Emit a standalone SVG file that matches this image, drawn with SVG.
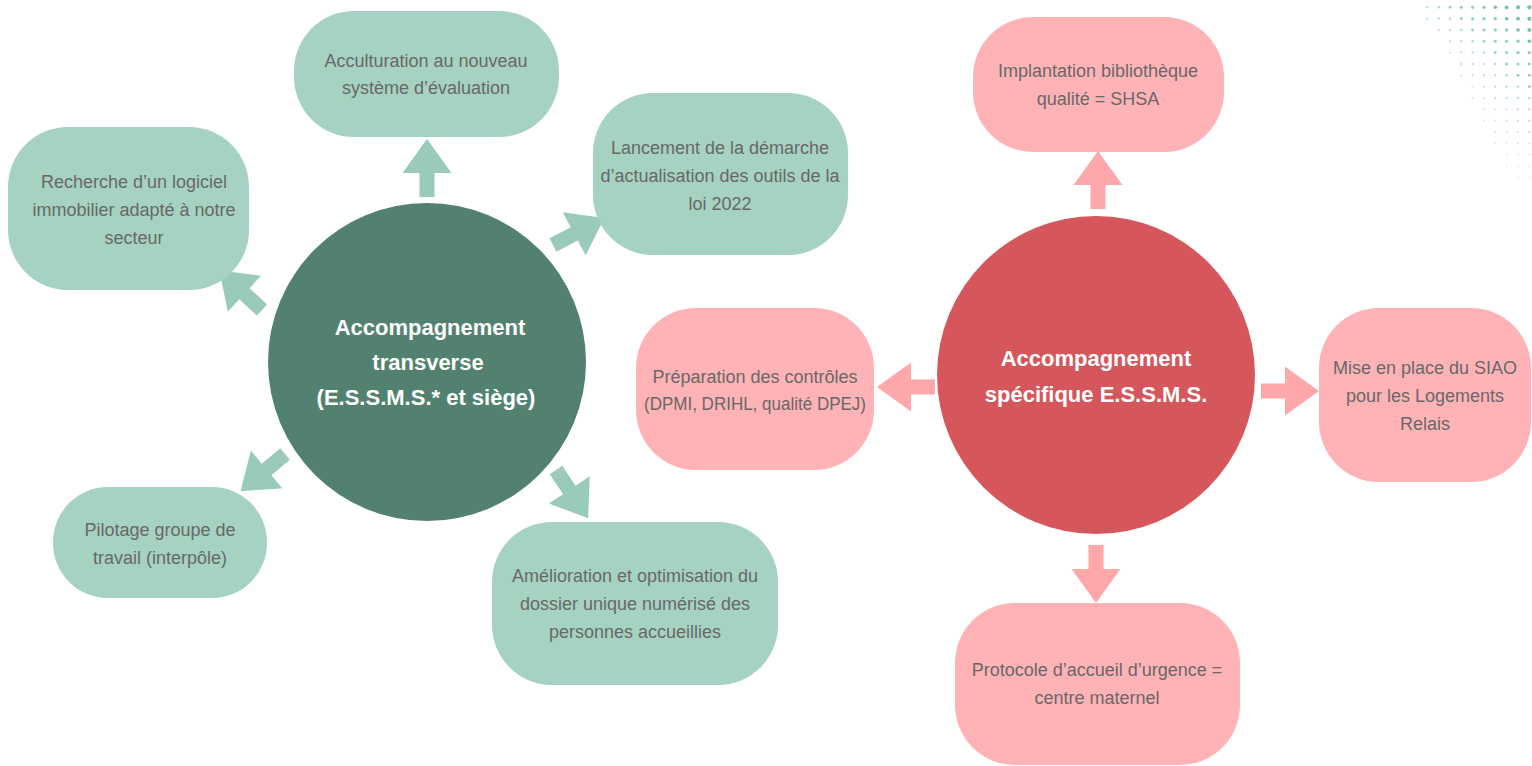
<svg xmlns="http://www.w3.org/2000/svg" width="1532" height="766" viewBox="0 0 1532 766">
<style>
.pg{fill:#A6D2C2}
.pp{fill:#FFB3B6}
.ga{fill:#99CBB8}
.pa{fill:#FFA8AC}
.t{font-family:"Liberation Sans",Arial,sans-serif;font-size:18px;fill:#686868;text-anchor:middle}
.h{font-family:"Liberation Sans",Arial,sans-serif;font-weight:bold;font-size:22px;fill:#ffffff;text-anchor:middle}
.da{fill:#62BE9C;opacity:0.9}
.db{fill:#62BE9C;opacity:0.72}
.dc{fill:#62BE9C;opacity:0.55}
.dd{fill:#62BE9C;opacity:0.38}
</style>
<defs>
<path id="arr" d="M0,-7.5 L24,-7.5 L24,-24.5 L58,0 L24,24.5 L24,7.5 L0,7.5 Z"/>
</defs>
<rect width="1532" height="766" fill="#ffffff"/>

<g id="dots">
<g transform="translate(0,7.3)">
<circle class="dc" cx="1427.3" r="1.1"/><circle class="dc" cx="1438.7" r="1.2"/><circle class="db" cx="1450" r="1.4"/><circle class="db" cx="1461.3" r="1.5"/><circle class="db" cx="1472.6" r="1.6"/><circle class="db" cx="1484" r="1.7"/><circle class="da" cx="1495.3" r="1.8"/><circle class="da" cx="1506.6" r="1.9"/><circle class="da" cx="1518" r="2"/><circle class="da" cx="1529.3" r="2.1"/>
</g>
<g transform="translate(0,18.7)">
<circle class="dc" cx="1427.3" r="1"/><circle class="dc" cx="1438.7" r="1.1"/><circle class="dc" cx="1450" r="1.2"/><circle class="db" cx="1461.3" r="1.4"/><circle class="db" cx="1472.6" r="1.5"/><circle class="db" cx="1484" r="1.6"/><circle class="db" cx="1495.3" r="1.7"/><circle class="da" cx="1506.6" r="1.8"/><circle class="da" cx="1518" r="1.9"/><circle class="da" cx="1529.3" r="2"/>
</g>
<g transform="translate(0,30)">
<circle class="dc" cx="1438.7" r="1"/><circle class="dc" cx="1450" r="1.1"/><circle class="dc" cx="1461.3" r="1.2"/><circle class="db" cx="1472.6" r="1.4"/><circle class="db" cx="1484" r="1.5"/><circle class="db" cx="1495.3" r="1.6"/><circle class="db" cx="1506.6" r="1.7"/><circle class="da" cx="1518" r="1.8"/><circle class="da" cx="1529.3" r="1.9"/>
</g>
<g transform="translate(0,41.3)">
<circle class="dc" cx="1450" r="1"/><circle class="dc" cx="1461.3" r="1.1"/><circle class="dc" cx="1472.6" r="1.2"/><circle class="db" cx="1484" r="1.4"/><circle class="db" cx="1495.3" r="1.5"/><circle class="db" cx="1506.6" r="1.6"/><circle class="db" cx="1518" r="1.7"/><circle class="da" cx="1529.3" r="1.8"/>
</g>
<g transform="translate(0,52.6)">
<circle class="dc" cx="1450" r="0.9"/><circle class="dc" cx="1461.3" r="1"/><circle class="dc" cx="1472.6" r="1.1"/><circle class="dc" cx="1484" r="1.2"/><circle class="db" cx="1495.3" r="1.4"/><circle class="db" cx="1506.6" r="1.5"/><circle class="db" cx="1518" r="1.6"/><circle class="db" cx="1529.3" r="1.7"/>
</g>
<g transform="translate(0,64)">
<circle class="dc" cx="1461.3" r="0.9"/><circle class="dc" cx="1472.6" r="1"/><circle class="dc" cx="1484" r="1.1"/><circle class="dc" cx="1495.3" r="1.2"/><circle class="db" cx="1506.6" r="1.4"/><circle class="db" cx="1518" r="1.5"/><circle class="db" cx="1529.3" r="1.6"/>
</g>
<g transform="translate(0,75.3)">
<circle class="dd" cx="1461.3" r="0.9"/><circle class="dc" cx="1472.6" r="0.9"/><circle class="dc" cx="1484" r="1"/><circle class="dc" cx="1495.3" r="1.1"/><circle class="dc" cx="1506.6" r="1.2"/><circle class="db" cx="1518" r="1.4"/><circle class="db" cx="1529.3" r="1.5"/>
</g>
<g transform="translate(0,86.6)">
<circle class="dd" cx="1472.6" r="0.9"/><circle class="dc" cx="1484" r="0.9"/><circle class="dc" cx="1495.3" r="1"/><circle class="dc" cx="1506.6" r="1.1"/><circle class="dc" cx="1518" r="1.2"/><circle class="db" cx="1529.3" r="1.4"/>
</g>
<g transform="translate(0,98)">
<circle class="dd" cx="1472.6" r="0.9"/><circle class="dd" cx="1484" r="0.9"/><circle class="dc" cx="1495.3" r="0.9"/><circle class="dc" cx="1506.6" r="1"/><circle class="dc" cx="1518" r="1.1"/><circle class="dc" cx="1529.3" r="1.2"/>
</g>
<g transform="translate(0,109.3)">
<circle class="dd" cx="1484" r="0.9"/><circle class="dd" cx="1495.3" r="0.9"/><circle class="dc" cx="1506.6" r="0.9"/><circle class="dc" cx="1518" r="1"/><circle class="dc" cx="1529.3" r="1.1"/>
</g>
<g transform="translate(0,120.6)">
<circle class="dd" cx="1484" r="0.9"/><circle class="dd" cx="1495.3" r="0.9"/><circle class="dd" cx="1506.6" r="0.9"/><circle class="dc" cx="1518" r="0.9"/><circle class="dc" cx="1529.3" r="1"/>
</g>
<g transform="translate(0,132)">
<circle class="dd" cx="1495.3" r="0.9"/><circle class="dd" cx="1506.6" r="0.9"/><circle class="dd" cx="1518" r="0.9"/><circle class="dc" cx="1529.3" r="0.9"/>
</g>
<g transform="translate(0,143.3)">
<circle class="dd" cx="1495.3" r="0.8"/><circle class="dd" cx="1506.6" r="0.8"/><circle class="dd" cx="1518" r="0.9"/><circle class="dd" cx="1529.3" r="0.9"/>
</g>
<g transform="translate(0,154.6)">
<circle class="dd" cx="1506.6" r="0.8"/><circle class="dd" cx="1518" r="0.8"/><circle class="dd" cx="1529.3" r="0.8"/>
</g>
<g transform="translate(0,166)">
<circle class="dd" cx="1506.6" r="0.7"/><circle class="dd" cx="1518" r="0.7"/><circle class="dd" cx="1529.3" r="0.8"/>
</g>
<g transform="translate(0,177.3)">
<circle class="dd" cx="1518" r="0.7"/><circle class="dd" cx="1529.3" r="0.7"/>
</g>
</g>

<g id="connectors">
<use href="#arr" class="ga" transform="translate(427,197) rotate(-90)"/>
<use href="#arr" class="ga" transform="translate(262,310) rotate(-137.2)"/>
<use href="#arr" class="ga" transform="translate(553,245) rotate(-27.8)"/>
<use href="#arr" class="ga" transform="translate(285,454) rotate(140.1)"/>
<use href="#arr" class="ga" transform="translate(556,470) rotate(56.3)"/>
<use href="#arr" class="pa" transform="translate(1098,209) rotate(-90)"/>
<use href="#arr" class="pa" transform="translate(1096,545) rotate(90)"/>
<use href="#arr" class="pa" transform="translate(1261,391)"/>
<use href="#arr" class="pa" transform="translate(935,387) rotate(180)"/>
</g>

<g id="center-transverse">
<circle cx="427" cy="362" r="159" fill="#52826F"/>
<text class="h" x="430" y="335">Accompagnement</text>
<text class="h" x="428" y="370">transverse</text>
<text class="h" x="426" y="405">(E.S.S.M.S.* et siège)</text>
</g>

<g id="center-specifique">
<circle cx="1096" cy="375" r="159" fill="#D6575B"/>
<text class="h" x="1096" y="366">Accompagnement</text>
<text class="h" x="1096" y="402">spécifique E.S.S.M.S.</text>
</g>

<g id="node-acculturation">
<rect class="pg" x="294" y="11" width="265" height="126" rx="60"/>
<text class="t" x="426" y="67">Acculturation au nouveau</text>
<text class="t" x="426" y="94">système d’évaluation</text>
</g>

<g id="node-lancement">
<rect class="pg" x="593" y="93" width="255" height="162" rx="60"/>
<text class="t" x="720" y="154">Lancement de la démarche</text>
<text class="t" x="720" y="182">d’actualisation des outils de la</text>
<text class="t" x="720" y="210">loi 2022</text>
</g>

<g id="node-recherche">
<rect class="pg" x="8" y="127" width="241" height="163" rx="60"/>
<text class="t" x="134" y="188">Recherche d’un logiciel</text>
<text class="t" x="134" y="216">immobilier adapté à notre</text>
<text class="t" x="134" y="244">secteur</text>
</g>

<g id="node-pilotage">
<rect class="pg" x="53" y="487" width="214" height="111" rx="55"/>
<text class="t" x="160" y="536">Pilotage groupe de</text>
<text class="t" x="160" y="564">travail (interpôle)</text>
</g>

<g id="node-amelioration">
<rect class="pg" x="492" y="522" width="286" height="163" rx="60"/>
<text class="t" x="635" y="582">Amélioration et optimisation du</text>
<text class="t" x="635" y="610">dossier unique numérisé des</text>
<text class="t" x="635" y="638">personnes accueillies</text>
</g>

<g id="node-implantation">
<rect class="pp" x="973" y="17" width="251" height="135" rx="60"/>
<text class="t" x="1098" y="77">Implantation bibliothèque</text>
<text class="t" x="1098" y="105">qualité = SHSA</text>
</g>

<g id="node-preparation">
<rect class="pp" x="636" y="308" width="238" height="162" rx="60"/>
<text class="t" x="755" y="383">Préparation des contrôles</text>
<text class="t" x="755" y="410" textLength="222" lengthAdjust="spacingAndGlyphs">(DPMI, DRIHL, qualité DPEJ)</text>
</g>

<g id="node-siao">
<rect class="pp" x="1319" y="308" width="212" height="174" rx="60"/>
<text class="t" x="1425" y="374">Mise en place du SIAO</text>
<text class="t" x="1425" y="402">pour les Logements</text>
<text class="t" x="1425" y="430">Relais</text>
</g>

<g id="node-protocole">
<rect class="pp" x="955" y="603" width="285" height="162" rx="60"/>
<text class="t" x="1097" y="676">Protocole d’accueil d’urgence =</text>
<text class="t" x="1097" y="704">centre maternel</text>
</g>
</svg>
